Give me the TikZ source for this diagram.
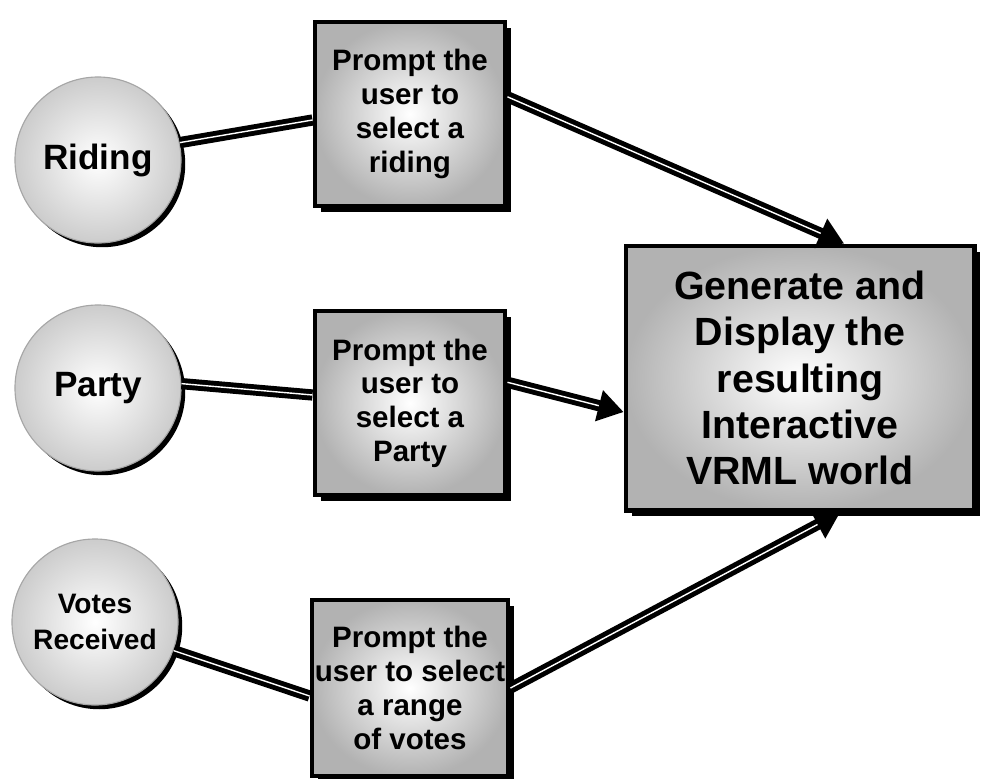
\documentclass[tikz,border=0pt]{standalone}
\usepackage{fontspec}
\setmainfont{Liberation Sans}
\usetikzlibrary{shadows,arrows.meta}

\begin{document}
\begin{tikzpicture}[x=0.025cm, y=-0.025cm,
	topic/.style={circle, draw=gray!70, line width=0.8pt, minimum size=4.15cm, inner sep=0pt, shade, inner color=white, outer color=gray!40,
		drop shadow={shadow xshift=3pt, shadow yshift=-3pt, fill=black, opacity=1}, align=center, font=\bfseries\fontsize{25}{28}\selectfont},
	prompt/.style={rectangle, draw=black, line width=3.5pt, minimum width=4.75cm, minimum height=4.6cm, inner sep=2pt, shade, inner color=white, outer color=gray!60,
		drop shadow={shadow xshift=4pt, shadow yshift=-4pt, fill=black, opacity=1}, align=center, font=\bfseries\fontsize{21}{24}\selectfont},
	result/.style={prompt, minimum width=8.7cm, minimum height=6.6cm, font=\bfseries\fontsize{28}{33}\selectfont},
	link/.style={draw=black, line width=3.5pt, double=white, double distance=1pt},
	flow/.style={link, -{Triangle[length=18pt, width=22pt]}}]
	\useasboundingbox (0,0) rectangle (988,778);

	% data items
	\node[topic] (riding) at (98,160) {Riding};
	\node[topic] (party) at (98,388) {Party};
	\node[topic, font=\bfseries\fontsize{20}{26}\selectfont] (votes) at (95,622) {Votes\\Received};

	% prompts
	\node[prompt] (selriding) at (410,114) {Prompt the\\user to\\select a\\riding};
	\node[prompt] (selparty) at (410,403) {Prompt the\\user to\\select a\\Party};
	\node[prompt, minimum height=4.4cm] (selvotes) at (410,688) {Prompt the\\user to select\\a range\\of votes};

	% output
	\node[result] (world) at (800,378) {Generate and\\Display the\\resulting\\Interactive\\VRML world};

	% connectors
	\draw[link] (riding.12) -- ([yshift=-0.15cm]selriding.west);
	\draw[link] (party.3) -- ([yshift=0.2cm]selparty.west);
	\draw[link] (votes.-20) -- ([yshift=-0.2cm]selvotes.west);

	\draw[flow] (selriding.10) -- ([xshift=1.1cm]world.north);
	\draw[flow] (selparty.12) -- ([yshift=-0.85cm]world.west);
	\draw[flow] (selvotes.east) -- ([xshift=1cm]world.south);
\end{tikzpicture}
\end{document}
